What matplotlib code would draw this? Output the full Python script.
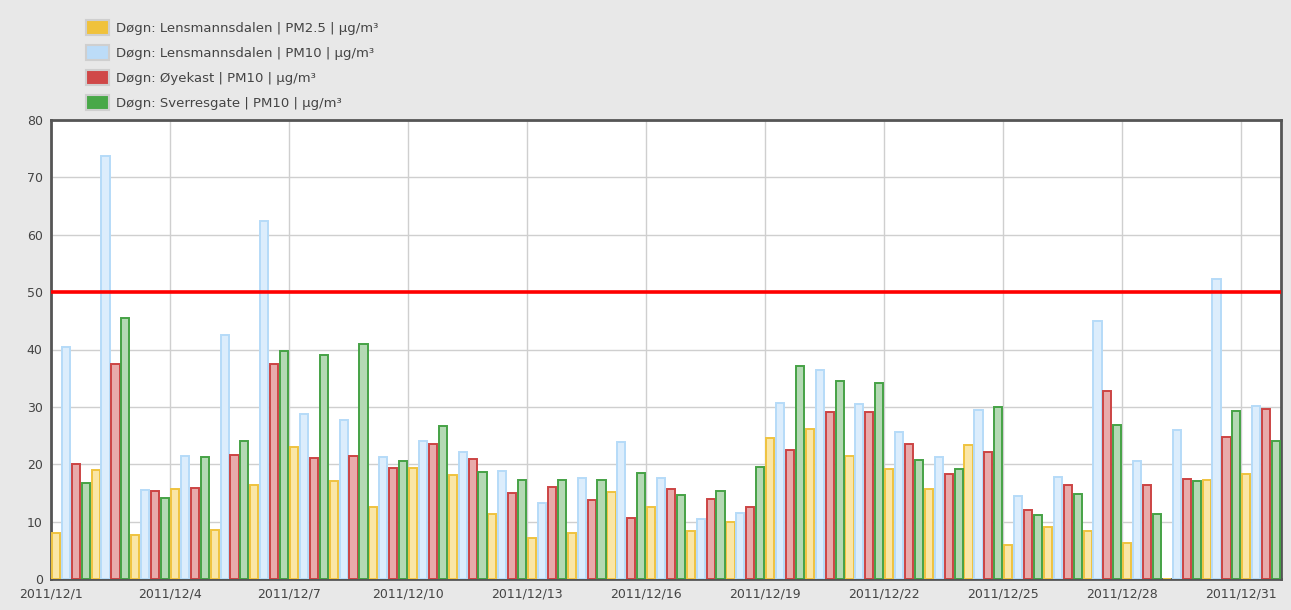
import matplotlib
matplotlib.use("Agg")
import matplotlib.pyplot as plt
from matplotlib.patches import Patch
import numpy as np

# daily means, December 2011 (µg/m³)
days = np.arange(1, 32)
pm25_lensmannsdalen = [8.0, 19.0, 7.7, 15.7, 8.6, 16.3, 23.0, 17.0, 12.5, 19.3,
                       18.2, 11.3, 7.1, 8.0, 15.2, 12.5, 8.4, 10.0, 24.5, 26.2,
                       21.4, 19.2, 15.7, 23.4, 6.0, 9.0, 8.4, 6.2, 0.0, 17.2, 18.3]
pm10_lensmannsdalen = [40.5, 73.8, 15.5, 21.4, 42.6, 62.4, 28.7, 27.7, 21.3, 24.1,
                       22.1, 18.8, 13.2, 17.6, 23.8, 17.6, 10.4, 11.5, 30.7, 36.5,
                       30.5, 25.6, 21.3, 29.4, 14.5, 17.7, 44.9, 20.6, 25.9, 52.3, 30.1]
pm10_oyekast = [20.0, 37.4, 15.4, 15.8, 21.6, 37.4, 21.1, 21.5, 19.4, 23.6,
                20.9, 15.0, 16.1, 13.8, 10.6, 15.6, 13.9, 12.5, 22.5, 29.1,
                29.1, 23.5, 18.3, 22.2, 12.0, 16.3, 32.7, 16.3, 17.5, 24.7, 29.7]
pm10_sverresgate = [16.8, 45.5, 14.1, 21.3, 24.1, 39.7, 39.1, 40.9, 20.5, 26.6,
                    18.6, 17.3, 17.2, 17.2, 18.5, 14.7, 15.4, 19.5, 37.2, 34.5,
                    34.2, 20.8, 19.2, 30.0, 11.2, 14.9, 26.9, 11.3, 17.1, 29.3, 24.0]
limit_value = 50

series_labels = ["Døgn: Lensmannsdalen | PM2.5 | µg/m³",
                 "Døgn: Lensmannsdalen | PM10 | µg/m³",
                 "Døgn: Øyekast | PM10 | µg/m³",
                 "Døgn: Sverresgate | PM10 | µg/m³"]
tick_days = list(range(1, 32, 3))
tick_labels = ["2011/12/%d" % d for d in tick_days]
y_ticks = list(range(0, 81, 10))

fills = ["#fae6a6", "#dcedfc", "#e8abab", "#b4d9b4"]
edges = ["#efc33f", "#b5dbf8", "#cc4444", "#45a245"]
legend_colors = ["#f0c23c", "#bcdcf8", "#d04848", "#48a848"]

fig = plt.figure(figsize=(12.91, 6.10), dpi=100, facecolor="#e8e8e8")
ax = fig.add_axes([51 / 1291, 31 / 610, 1230 / 1291, 459 / 610])
ax.set_facecolor("white")

w = 0.25
bw = w * 0.82
all_series = [pm25_lensmannsdalen, pm10_lensmannsdalen, pm10_oyekast, pm10_sverresgate]
for i, vals in enumerate(all_series):
    ax.bar(days + i * w + w / 2, vals, width=bw, color=fills[i],
           edgecolor=edges[i], linewidth=1.4, zorder=3)

ax.axhline(limit_value, color="#ff0000", lw=2.6, zorder=4)

ax.set_xlim(1, 32)
ax.set_ylim(0, 80)
ax.set_xticks(tick_days)
ax.set_xticklabels(tick_labels)
ax.set_yticks(y_ticks)
ax.grid(color="#cfcfcf", lw=1)
ax.set_axisbelow(True)
ax.tick_params(length=0, labelsize=9, labelcolor="#444444", pad=6)
for s in ax.spines.values():
    s.set_color("#555555")
    s.set_linewidth(2)

handles = [Patch(facecolor=c, edgecolor="#cfcfcf", lw=1.5) for c in legend_colors]
fig.legend(handles=handles, labels=series_labels, loc="upper left",
           bbox_to_anchor=(86 / 1291, 1 - 20 / 610), frameon=False, fontsize=9.5,
           handlelength=1.75, handleheight=1.35, labelspacing=0.78,
           handletextpad=0.55, borderaxespad=0, borderpad=0, labelcolor="#444444")

fig.savefig("out.png", dpi=100, facecolor=fig.get_facecolor())
